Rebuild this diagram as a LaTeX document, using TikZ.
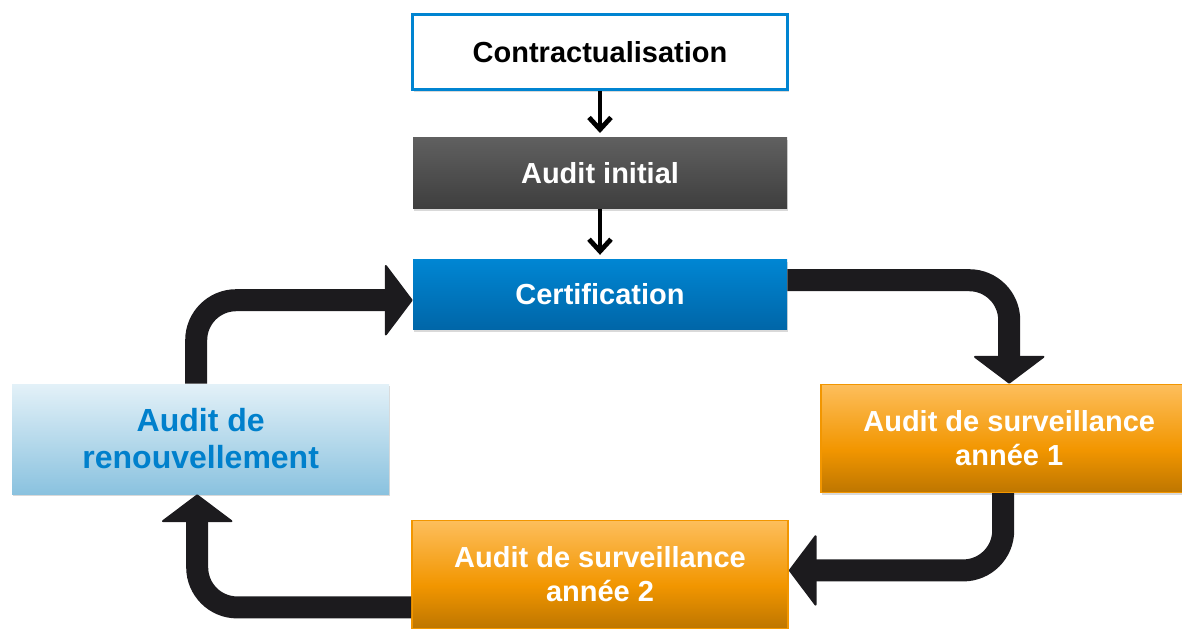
\documentclass[tikz,border=0pt]{standalone}
\usepackage{fontspec}
\setmainfont{Liberation Sans}
\usetikzlibrary{positioning, arrows.meta, shadows}

\definecolor{ctrblue}{RGB}{0,132,209}
\definecolor{certtop}{RGB}{0,134,211}
\definecolor{certbot}{RGB}{0,102,168}
\definecolor{graytop}{RGB}{96,96,96}
\definecolor{graybot}{RGB}{62,62,62}
\definecolor{renewtop}{RGB}{227,241,248}
\definecolor{renewbot}{RGB}{138,194,223}
\definecolor{renewtext}{RGB}{0,128,204}
\definecolor{orangetop}{RGB}{253,190,92}
\definecolor{orangemid}{RGB}{242,150,0}
\definecolor{orangebot}{RGB}{190,118,0}
\definecolor{arrowblack}{RGB}{28,27,30}

\pgfdeclareverticalshading{orangeshade}{100bp}{color(0bp)=(orangebot); color(25bp)=(orangebot); color(45bp)=(orangemid); color(75bp)=(orangetop); color(100bp)=(orangetop)}

\begin{document}
\begin{tikzpicture}[x=0.5pt, y=0.5pt,
		stage/.style={rectangle, inner sep=0pt, align=center, text=white, font=\fontsize{14.5}{17}\selectfont\bfseries, drop shadow={shadow xshift=0.6pt, shadow yshift=-1.2pt, opacity=0.3}},
		contract/.style={stage, draw=ctrblue, line width=1.6pt, fill=white, text=black, minimum width=187.4pt, minimum height=37.4pt},
		initial/.style={stage, top color=graytop, bottom color=graybot, minimum width=187pt, minimum height=35.5pt},
		certif/.style={stage, top color=certtop, bottom color=certbot, minimum width=187pt, minimum height=35pt},
		renewal/.style={stage, top color=renewtop, bottom color=renewbot, text=renewtext, font=\fontsize{16}{18.5}\selectfont\bfseries, minimum width=188.5pt, minimum height=55pt},
		survey/.style={stage, draw=orangemid, line width=0.8pt, shading=orangeshade, minimum width=188pt, minimum height=54pt},
		smallarrow/.style={line width=2pt, shorten >=2pt, -{Straight Barb[length=6pt, width=11pt, line width=2.4pt]}},
		bigarrow/.style={line width=11pt, draw=arrowblack, rounded corners=20pt, -{Triangle[length=14pt, width=37pt, line width=1pt, round]}}
	]

	\useasboundingbox (0,0) rectangle (1182,-628);

	\node[contract] (contract) at (600,-52) {Contractualisation};
	\node[initial, below=23pt of contract] (initial) {Audit initial};
	\node[certif, below=25pt of initial] (cert) {Certification};
	\node[renewal, below left=27pt and 11.5pt of cert] (renew) {Audit de\\renouvellement};
	\node[survey, below right=27pt and 16.5pt of cert] (surv1) {Audit de surveillance\\année 1};
	\node[survey, below=95pt of cert] (surv2) {Audit de surveillance\\année 2};

	\foreach \i/\j in {contract/initial, initial/cert}
		\draw[smallarrow] (\i) -- (\j);

	\draw[bigarrow] ([yshift=7pt]cert.east) -| (surv1.north);
	\draw[bigarrow] ([xshift=-3pt]surv1.south) |- ([yshift=2pt]surv2.east);
	\draw[bigarrow] ([yshift=-16.5pt]surv2.west) -| ([xshift=-1.75pt]renew.south);
	\draw[bigarrow] ([xshift=-2.25pt]renew.north) |- ([yshift=-3pt]cert.west);

\end{tikzpicture}
\end{document}
